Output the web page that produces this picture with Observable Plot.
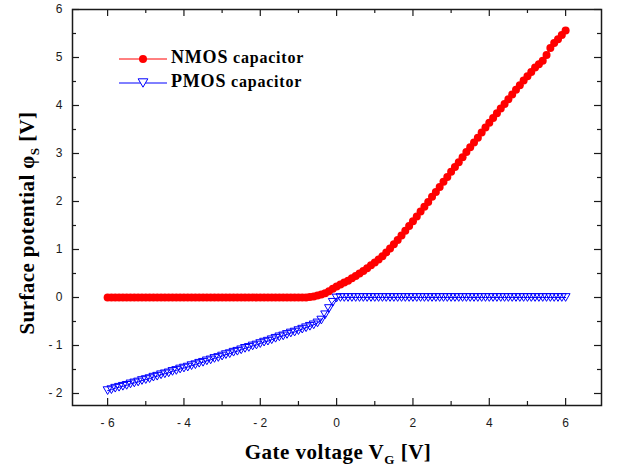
<!DOCTYPE html>
<html>
<head>
<meta charset="utf-8">
<script src="https://cdn.jsdelivr.net/npm/d3@7"></script>
<script src="https://cdn.jsdelivr.net/npm/@observablehq/plot@0.6"></script>
<style>
  html, body { margin: 0; padding: 0; background: #fff; }
  #chart { width: 622px; height: 472px; }
</style>
</head>
<body>
<div id="chart"></div>
<script>
// ---- data ----
const gateVoltage = [
  -6.0,-5.9,-5.8,-5.7,-5.6,-5.5,-5.4,-5.3,-5.2,-5.1,
  -5.0,-4.9,-4.8,-4.7,-4.6,-4.5,-4.4,-4.3,-4.2,-4.1,
  -4.0,-3.9,-3.8,-3.7,-3.6,-3.5,-3.4,-3.3,-3.2,-3.1,
  -3.0,-2.9,-2.8,-2.7,-2.6,-2.5,-2.4,-2.3,-2.2,-2.1,
  -2.0,-1.9,-1.8,-1.7,-1.6,-1.5,-1.4,-1.3,-1.2,-1.1,
  -1.0,-0.9,-0.8,-0.7,-0.6,-0.5,-0.4,-0.3,-0.2,-0.1,
   0.0, 0.1, 0.2, 0.3, 0.4, 0.5, 0.6, 0.7, 0.8, 0.9,
   1.0, 1.1, 1.2, 1.3, 1.4, 1.5, 1.6, 1.7, 1.8, 1.9,
   2.0, 2.1, 2.2, 2.3, 2.4, 2.5, 2.6, 2.7, 2.8, 2.9,
   3.0, 3.1, 3.2, 3.3, 3.4, 3.5, 3.6, 3.7, 3.8, 3.9,
   4.0, 4.1, 4.2, 4.3, 4.4, 4.5, 4.6, 4.7, 4.8, 4.9,
   5.0, 5.1, 5.2, 5.3, 5.4, 5.5, 5.6, 5.7, 5.8, 5.9,
   6.0
];
const nmosPhi = [
  0,0,0,0,0,0,0,0,0,0,
  0,0,0,0,0,0,0,0,0,0,
  0,0,0,0,0,0,0,0,0,0,
  0,0,0,0,0,0,0,0,0,0,
  0,0,0,0,0,0,0,0,0,0,
  0,0,0,0.01,0.02,0.04,0.06,0.09,0.13,0.18,
  0.23,0.27,0.31,0.35,0.40,0.45,0.50,0.55,0.61,0.67,
  0.73,0.79,0.86,0.94,1.02,1.11,1.20,1.29,1.39,1.49,
  1.59,1.69,1.79,1.89,1.99,2.10,2.20,2.30,2.41,2.51,
  2.62,2.72,2.82,2.92,3.03,3.13,3.23,3.33,3.44,3.54,
  3.64,3.74,3.84,3.94,4.03,4.13,4.23,4.33,4.42,4.52,
  4.61,4.70,4.79,4.86,4.93,5.05,5.20,5.30,5.38,5.47,
  5.56
];
const pmosPhi = [
  -1.94,-1.92,-1.89,-1.87,-1.85,-1.83,-1.80,-1.78,-1.76,-1.73,
  -1.71,-1.69,-1.66,-1.64,-1.61,-1.59,-1.57,-1.54,-1.52,-1.49,
  -1.47,-1.45,-1.42,-1.40,-1.37,-1.35,-1.32,-1.30,-1.27,-1.25,
  -1.22,-1.19,-1.17,-1.14,-1.12,-1.09,-1.06,-1.04,-1.01,-0.99,
  -0.96,-0.93,-0.91,-0.88,-0.85,-0.82,-0.80,-0.77,-0.74,-0.72,
  -0.69,-0.66,-0.63,-0.60,-0.57,-0.53,-0.47,-0.36,-0.23,-0.10,
  -0.01,0,0,0,0,0,0,0,0,0,
  0,0,0,0,0,0,0,0,0,0,
  0,0,0,0,0,0,0,0,0,0,
  0,0,0,0,0,0,0,0,0,0,
  0,0,0,0,0,0,0,0,0,0,
  0,0,0,0,0,0,0,0,0,0,
  0
];
const seriesNames = ["NMOS capacitor", "PMOS capacitor"];
const xTicks = [-6, -4, -2, 0, 2, 4, 6];
const xTickLabels = ["- 6", "- 4", "- 2", "0", "2", "4", "6"];
const xMinorTicks = [-5, -3, -1, 1, 3, 5];
const yTicks = [-2, -1, 0, 1, 2, 3, 4, 5, 6];
const yTickLabels = ["- 2", "- 1", "0", "1", "2", "3", "4", "5", "6"];
const yMinorTicks = [-1.5, -0.5, 0.5, 1.5, 2.5, 3.5, 4.5, 5.5];

// ---- build tables ----
const nmos = gateVoltage.map((v, i) => ({vg: v, phi: nmosPhi[i]}));
const pmos = gateVoltage.map((v, i) => ({vg: v, phi: pmosPhi[i]}));
const xLabelMap = new Map(xTicks.map((t, i) => [t, xTickLabels[i]]));
const yLabelMap = new Map(yTicks.map((t, i) => [t, yTickLabels[i]]));

const RED = "#ff0000", BLUE = "#0000ff", INK = "#1a1a1a";

// downward-pointing triangle symbol
const triangleDown = {
  draw(context, size) {
    const s = Math.sqrt(size * 4 / Math.sqrt(3));
    const h = s * Math.sqrt(3) / 2;
    context.moveTo(-s / 2, -h / 2);
    context.lineTo(s / 2, -h / 2);
    context.lineTo(0, h / 2);
    context.closePath();
  }
};

const W = 622, H = 472, ML = 72, MR = 21, MT = 9, MB = 67;
const FW = W - ML - MR, FH = H - MT - MB;
const MAJ = 7, MIN = 4;

const plot = Plot.plot({
  width: W, height: H,
  marginLeft: ML, marginRight: MR, marginTop: MT, marginBottom: MB,
  x: {domain: [-6.92, 6.94]},
  y: {domain: [-2.25, 6]},
  style: {fontFamily: "'Liberation Sans', Arial, sans-serif", fontSize: "12px", color: INK, background: "white", overflow: "visible"},
  marks: [
    Plot.line(nmos, {x: "vg", y: "phi", stroke: RED, strokeWidth: 1}),
    Plot.dot(nmos, {x: "vg", y: "phi", r: 4, fill: RED, stroke: "none"}),
    Plot.line(pmos, {x: "vg", y: "phi", stroke: BLUE, strokeWidth: 1}),
    Plot.dot(pmos, {x: "vg", y: "phi", r: 3.3, symbol: triangleDown, fill: "none", stroke: BLUE, strokeWidth: 1}),
    // inward ticks on all four sides
    Plot.tickX(xTicks, {x: d => d, insetTop: FH - MAJ, stroke: INK, strokeWidth: 1.2}),
    Plot.tickX(xTicks, {x: d => d, insetBottom: FH - MAJ, stroke: INK, strokeWidth: 1.2}),
    Plot.tickX(xMinorTicks, {x: d => d, insetTop: FH - MIN, stroke: INK, strokeWidth: 1.2}),
    Plot.tickX(xMinorTicks, {x: d => d, insetBottom: FH - MIN, stroke: INK, strokeWidth: 1.2}),
    Plot.tickY(yTicks, {y: d => d, insetRight: FW - MAJ, stroke: INK, strokeWidth: 1.2}),
    Plot.tickY(yTicks, {y: d => d, insetLeft: FW - MAJ, stroke: INK, strokeWidth: 1.2}),
    Plot.tickY(yMinorTicks, {y: d => d, insetRight: FW - MIN, stroke: INK, strokeWidth: 1.2}),
    Plot.tickY(yMinorTicks, {y: d => d, insetLeft: FW - MIN, stroke: INK, strokeWidth: 1.2}),
    Plot.frame({stroke: INK, strokeWidth: 1.5}),
    Plot.axisX(xTicks, {anchor: "bottom", tickSize: 0, tickPadding: 13, tickFormat: d => xLabelMap.get(d), label: null, fill: INK}),
    Plot.axisY(yTicks, {anchor: "left", tickSize: 0, tickPadding: 10, tickFormat: d => yLabelMap.get(d), label: null, fill: INK})
  ]
});

document.getElementById("chart").appendChild(plot);

// ---- axis titles and legend (text) ----
const svg = d3.select(plot);
const titleFont = "'Liberation Serif', 'Times New Roman', serif";

const xt = svg.append("text")
  .attr("x", 338).attr("y", 459)
  .attr("text-anchor", "middle")
  .attr("font-family", titleFont).attr("font-weight", "bold")
  .attr("font-size", 21).attr("letter-spacing", 0.5).attr("fill", "#000");
xt.append("tspan").text("Gate voltage V");
xt.append("tspan").attr("font-size", 13).attr("dy", 5).text("G");
xt.append("tspan").attr("dy", -5).text(" [V]");

const yt = svg.append("text")
  .attr("transform", "translate(34,223) rotate(-90)")
  .attr("text-anchor", "middle")
  .attr("font-family", titleFont).attr("font-weight", "bold")
  .attr("font-size", 21).attr("letter-spacing", 0.4).attr("fill", "#000");
yt.append("tspan").text("Surface potential φ");
yt.append("tspan").attr("font-size", 13).attr("dy", 5).text("S");
yt.append("tspan").attr("dy", -5).text(" [V]");

const legend = svg.append("g");
const legendRows = [
  {name: seriesNames[0], color: RED, kind: "circle", y: 59},
  {name: seriesNames[1], color: BLUE, kind: "tri", y: 83}
];
legendRows.forEach(row => {
  legend.append("line").attr("x1", 119).attr("x2", 167).attr("y1", row.y).attr("y2", row.y)
    .attr("stroke", row.color).attr("stroke-width", 1);
  if (row.kind === "circle") {
    legend.append("circle").attr("cx", 143).attr("cy", row.y).attr("r", 4).attr("fill", row.color);
  } else {
    legend.append("path").attr("transform", `translate(143,${row.y})`)
      .attr("d", d3.symbol(triangleDown, Math.PI * 3.6 * 3.6)())
      .attr("fill", "white").attr("stroke", row.color).attr("stroke-width", 1);
  }
  const parts = row.name.split(" ");
  const t = legend.append("text").attr("x", 171).attr("y", row.y).attr("dy", "0.35em")
    .attr("text-anchor", "start")
    .attr("font-family", titleFont).attr("font-weight", "bold").attr("fill", "#000")
    .attr("letter-spacing", 0.8);
  t.append("tspan").attr("font-size", 18).text(parts[0]);
  t.append("tspan").attr("font-size", 16).text(" " + parts[1]);
});
</script>
</body>
</html>
